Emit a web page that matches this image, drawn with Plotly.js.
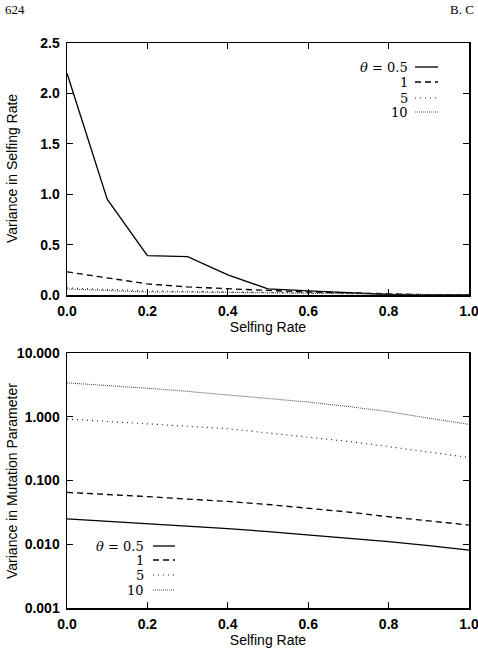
<!DOCTYPE html>
<html>
<head>
<meta charset="utf-8">
<script src="https://cdn.plot.ly/plotly-3.0.1.min.js"></script>
<style>
html,body{margin:0;padding:0;background:#fff;overflow:hidden;}
#chart{width:478px;height:648px;}
</style>
</head>
<body>
<div id="chart"></div>
<script>
// ---- data ----
const selfingRate = [0.0, 0.1, 0.2, 0.3, 0.4, 0.5, 0.6, 0.7, 0.8, 0.9, 1.0];
const thetaLabels = ["\u03b8 = 0.5", "1", "5", "10"];

// Top panel: variance in selfing rate
const varSelf_05 = [2.2, 0.95, 0.39, 0.38, 0.2, 0.06, 0.04, 0.02, 0.005, 0.0, 0.0];
const varSelf_1  = [0.23, 0.17, 0.11, 0.08, 0.06, 0.045, 0.03, 0.02, 0.008, 0.003, 0.0];
const varSelf_5  = [0.07, 0.055, 0.04, 0.035, 0.03, 0.025, 0.02, 0.012, 0.006, 0.002, 0.0];
const varSelf_10 = [0.06, 0.045, 0.03, 0.03, 0.025, 0.02, 0.015, 0.01, 0.005, 0.002, 0.0];

// Bottom panel: variance in mutation parameter
const varMut_05 = [0.025, 0.023, 0.021, 0.019, 0.0176, 0.0158, 0.014, 0.0125, 0.011, 0.0095, 0.0081];
const varMut_1  = [0.065, 0.061, 0.056, 0.051, 0.047, 0.042, 0.037, 0.032, 0.027, 0.023, 0.020];
const varMut_5  = [0.92, 0.85, 0.77, 0.71, 0.65, 0.56, 0.48, 0.41, 0.34, 0.28, 0.23];
const varMut_10 = [3.4, 3.1, 2.8, 2.5, 2.2, 1.95, 1.7, 1.45, 1.2, 0.95, 0.76];

const xTicks = [0, 0.2, 0.4, 0.6, 0.8, 1.0];
const xTickText = ["0.0", "0.2", "0.4", "0.6", "0.8", "1.0"];
const topYTicks = [0, 0.5, 1.0, 1.5, 2.0, 2.5];
const topYTickText = ["0.0", "0.5", "1.0", "1.5", "2.0", "2.5"];
const botYTicks = [0.001, 0.01, 0.1, 1, 10];
const botYTickText = ["0.001", "0.010", "0.100", "1.000", "10.000"];

// ---- styles ----
const styles = [
  {color: "#000", width: 1.3, dash: "solid"},
  {color: "#000", width: 1.3, dash: "6px,4px"},
  {color: "#222", width: 1.2, dash: "1px,4px"},
  {color: "#555", width: 1.1, dash: "1px,1px"}
];

const topSeries = [varSelf_05, varSelf_1, varSelf_5, varSelf_10];
const botSeries = [varMut_05, varMut_1, varMut_5, varMut_10];

const traces = [];
topSeries.forEach((ys, i) => traces.push({
  x: selfingRate, y: ys, type: "scatter", mode: "lines",
  line: styles[i], xaxis: "x", yaxis: "y", showlegend: false, name: thetaLabels[i]
}));
botSeries.forEach((ys, i) => traces.push({
  x: selfingRate, y: ys, type: "scatter", mode: "lines",
  line: styles[i], xaxis: "x2", yaxis: "y2", showlegend: false, name: thetaLabels[i]
}));

const tickFont = {family: "Liberation Sans, Arial, sans-serif", size: 14, color: "#000", weight: "bold"};
const titleFont = {family: "Liberation Sans, Arial, sans-serif", size: 14, color: "#000"};

function xAxis(anchor) {
  return {
    anchor: anchor, range: [0, 1], tickvals: xTicks, ticktext: xTickText,
    ticks: "inside", ticklen: 6, tickwidth: 1.2, tickcolor: "#000",
    showline: true, linecolor: "#000", linewidth: 1.5, mirror: "ticks",
    showgrid: false, zeroline: false, tickfont: tickFont,
    ticklabeloverflow: "allow", ticklabelstandoff: 3,
    title: {text: "Selfing Rate", font: titleFont, standoff: 0}
  };
}

const annotations = [];
const shapes = [];
const P = (px) => (px - 67) / 402;       // paper x from pixel
const Q = (py) => (608 - py) / 565;      // paper y from pixel

// page header
annotations.push({text: "624", x: P(3), y: Q(0), xref: "paper", yref: "paper", xanchor: "left", yanchor: "top",
  showarrow: false, font: {family: "Liberation Serif, serif", size: 13, color: "#000"}});
annotations.push({text: "B. C", x: P(448), y: Q(0), xref: "paper", yref: "paper", xanchor: "left", yanchor: "top",
  showarrow: false, font: {family: "Liberation Serif, serif", size: 13, color: "#000"}});

// y-axis titles
annotations.push({text: "Variance in Selfing Rate", x: P(12), y: Q(169), xref: "paper", yref: "paper",
  xanchor: "center", yanchor: "middle", textangle: -90, showarrow: false, font: titleFont});
annotations.push({text: "Variance in Mutation Parameter", x: P(12), y: Q(481), xref: "paper", yref: "paper",
  xanchor: "center", yanchor: "middle", textangle: -90, showarrow: false, font: titleFont});

function addLegend(xText, x0, x1, ys) {
  ys.forEach((yy, i) => {
    const label = i === 0 ? "<i>\u03b8</i> = 0.5" : thetaLabels[i];
    annotations.push({
      text: label, x: xText, y: yy, xref: "paper", yref: "paper",
      xanchor: "right", yanchor: "middle", showarrow: false,
      font: {family: "DejaVu Serif, Liberation Serif, serif", size: 13, color: "#000"}
    });
    shapes.push({
      type: "line", xref: "paper", yref: "paper", x0: x0, x1: x1, y0: yy, y1: yy,
      line: styles[i]
    });
  });
}
addLegend(P(410), P(415), P(438), [Q(67), Q(82), Q(98), Q(112)]);
addLegend(P(146), P(153), P(175), [Q(546), Q(560), Q(575), Q(590)]);

const layout = {
  width: 478, height: 648,
  margin: {l: 67, r: 9, t: 43, b: 40},
  paper_bgcolor: "#fff", plot_bgcolor: "#fff",
  showlegend: false,
  xaxis: xAxis("y"),
  xaxis2: xAxis("y2"),
  yaxis: {
    domain: [Q(295), 1], anchor: "x", range: [0, 2.5],
    tickvals: topYTicks, ticktext: topYTickText,
    ticks: "inside", ticklen: 6, tickwidth: 1.2, tickcolor: "#000",
    showline: true, linecolor: "#000", linewidth: 1.5, mirror: "ticks",
    showgrid: false, zeroline: false, tickfont: tickFont, ticklabelstandoff: 3
  },
  yaxis2: {
    domain: [0, Q(353)], anchor: "x2", type: "log", range: [-3, 1],
    tickvals: botYTicks, ticktext: botYTickText,
    ticks: "inside", ticklen: 6, tickwidth: 1.2, tickcolor: "#000",
    showline: true, linecolor: "#000", linewidth: 1.5, mirror: "ticks",
    showgrid: false, zeroline: false, tickfont: tickFont, ticklabelstandoff: 3
  },
  annotations: annotations,
  shapes: shapes
};

Plotly.newPlot("chart", traces, layout, {displayModeBar: false, staticPlot: true});
</script>
</body>
</html>
